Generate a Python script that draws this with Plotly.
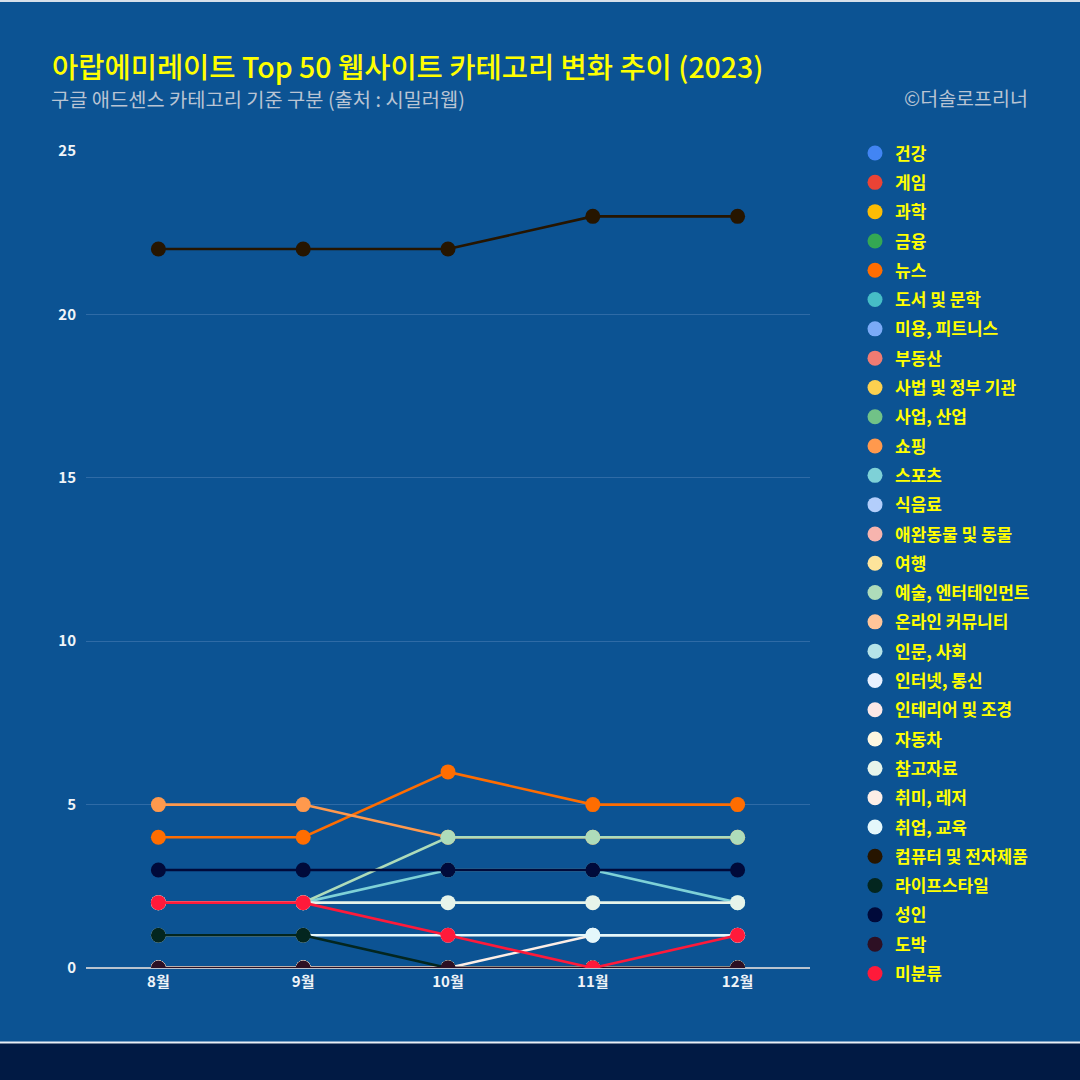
import plotly.graph_objects as go

months = ["8월", "9월", "10월", "11월", "12월"]

categories = [
    "건강", "게임", "과학", "금융", "뉴스", "도서 및 문학", "미용, 피트니스", "부동산",
    "사법 및 정부 기관", "사업, 산업", "쇼핑", "스포츠", "식음료", "애완동물 및 동물",
    "여행", "예술, 엔터테인먼트", "온라인 커뮤니티", "인문, 사회", "인터넷, 통신",
    "인테리어 및 조경", "자동차", "참고자료", "취미, 레저", "취업, 교육",
    "컴퓨터 및 전자제품", "라이프스타일", "성인", "도박", "미분류",
]

colors = [
    "#4285f4", "#ea4335", "#fbbc04", "#34a853", "#ff6d01", "#46bdc6", "#7baaf7", "#f07b72",
    "#fcd04f", "#71c287", "#ff994d", "#7ed1d7", "#b3cefb", "#f7b4ae",
    "#fde49b", "#aedcba", "#ffc599", "#b5e3e8", "#e8f0fe",
    "#fce8e6", "#fef7e0", "#e6f4ea", "#fdeee6", "#e4f7fb",
    "#261500", "#03261f", "#000a3a", "#2d1024", "#ff1a3a",
]

values = {
    "건강": [0, 0, 0, 0, 0],
    "게임": [0, 0, 0, 0, 0],
    "과학": [0, 0, 0, 0, 0],
    "금융": [0, 0, 0, 0, 0],
    "뉴스": [4, 4, 6, 5, 5],
    "도서 및 문학": [0, 0, 0, 0, 0],
    "미용, 피트니스": [0, 0, 0, 0, 0],
    "부동산": [0, 0, 0, 0, 0],
    "사법 및 정부 기관": [0, 0, 0, 0, 0],
    "사업, 산업": [0, 0, 0, 0, 0],
    "쇼핑": [5, 5, 4, 4, 4],
    "스포츠": [2, 2, 3, 3, 2],
    "식음료": [0, 0, 0, 0, 0],
    "애완동물 및 동물": [0, 0, 0, 0, 0],
    "여행": [0, 0, 0, 0, 0],
    "예술, 엔터테인먼트": [2, 2, 4, 4, 4],
    "온라인 커뮤니티": [0, 0, 0, 0, 0],
    "인문, 사회": [0, 0, 0, 0, 0],
    "인터넷, 통신": [0, 0, 0, 0, 0],
    "인테리어 및 조경": [0, 0, 0, 0, 0],
    "자동차": [0, 0, 0, 0, 0],
    "참고자료": [2, 2, 2, 2, 2],
    "취미, 레저": [0, 0, 0, 1, 1],
    "취업, 교육": [1, 1, 1, 1, 1],
    "컴퓨터 및 전자제품": [22, 22, 22, 23, 23],
    "라이프스타일": [1, 1, 0, 0, 0],
    "성인": [3, 3, 3, 3, 3],
    "도박": [0, 0, 0, 0, 0],
    "미분류": [2, 2, 1, 0, 1],
}

y_ticks = [0, 5, 10, 15, 20, 25]

title_text = "아랍에미레이트 Top 50 웹사이트 카테고리 변화 추이 (2023)"
subtitle_text = "구글 애드센스 카테고리 기준 구분 (출처 : 시밀러웹)"
credit_text = "©더솔로프리너"

BG = "#0c5393"
FONT = "Noto Sans CJK KR"

# plot area in pixels
L, R, T, B = 86, 270, 151, 112
W = H = 1080
PW = W - L - R
PH = H - T - B


def px_x(p):
    return (p - L) / PW


def px_y(p):
    return (H - B - p) / PH


fig = go.Figure()

for name, col in zip(categories, colors):
    fig.add_trace(go.Scatter(
        x=months, y=values[name], mode="lines+markers", name=name,
        line=dict(color=col, width=2.6),
        marker=dict(color=col, size=15),
        showlegend=False, hoverinfo="skip",
    ))

for name, col in zip(categories, colors):
    fig.add_trace(go.Scatter(
        x=[None], y=[None], mode="markers", name=name,
        marker=dict(color=col, size=15),
        legendgroup=name, showlegend=True,
    ))

fig.update_layout(
    width=W, height=H,
    margin=dict(l=L, r=R, t=T, b=B),
    paper_bgcolor=BG, plot_bgcolor=BG,
    font=dict(family=FONT, color="#ffffff"),
    showlegend=True,
    legend=dict(
        x=px_x(855), y=px_y(135.5), xanchor="left", yanchor="top",
        bgcolor="rgba(0,0,0,0)",
        font=dict(family=FONT, size=17, color="#ffff00", weight="bold"),
        tracegroupgap=4.2,
        itemsizing="trace",
        maxheight=960,
    ),
    xaxis=dict(
        type="category", categoryorder="array", categoryarray=months,
        range=[-0.5, 4.5], showgrid=False, zeroline=False, showline=False,
        tickfont=dict(family=FONT, size=15, color="#f0f4f8", weight="bold"),
        ticklabelstandoff=3,
    ),
    yaxis=dict(
        range=[0, 25], tickvals=y_ticks, showgrid=True,
        gridcolor="#2f6ba6", gridwidth=1.2,
        zeroline=True, zerolinecolor="#b9c3cf", zerolinewidth=2,
        showline=False,
        tickfont=dict(family=FONT, size=15, color="#f0f4f8", weight="bold"),
        ticklabelstandoff=9,
    ),
    shapes=[
        dict(type="rect", xref="paper", yref="paper",
             x0=px_x(-10), x1=px_x(1090), y0=px_y(1043), y1=px_y(1090),
             fillcolor="#011a44", line=dict(width=0), layer="below"),
        dict(type="line", xref="paper", yref="paper",
             x0=px_x(-10), x1=px_x(1090), y0=px_y(1042.5), y1=px_y(1042.5),
             line=dict(color="#e8eef5", width=2)),
        dict(type="line", xref="paper", yref="paper",
             x0=px_x(-10), x1=px_x(1090), y0=px_y(1), y1=px_y(1),
             line=dict(color="#d8e0ea", width=2)),
    ],
    annotations=[
        dict(text=title_text, xref="paper", yref="paper",
             x=px_x(50), y=px_y(66), xanchor="left", yanchor="middle",
             showarrow=False,
             font=dict(family=FONT, size=28.5, color="#ffff00", weight=500)),
        dict(text=subtitle_text, xref="paper", yref="paper",
             x=px_x(49), y=px_y(99), xanchor="left", yanchor="middle",
             showarrow=False, font=dict(family=FONT, size=19.8, color="#b9c4d3")),
        dict(text=credit_text, xref="paper", yref="paper",
             x=px_x(1030), y=px_y(98), xanchor="right", yanchor="middle",
             showarrow=False, font=dict(family=FONT, size=19.5, color="#b9c4d3")),
    ],
)

fig.write_html(
    "out.html",
    config={"displayModeBar": False},
    post_script="document.body.style.margin='0';document.body.style.background='%s';" % BG,
)
